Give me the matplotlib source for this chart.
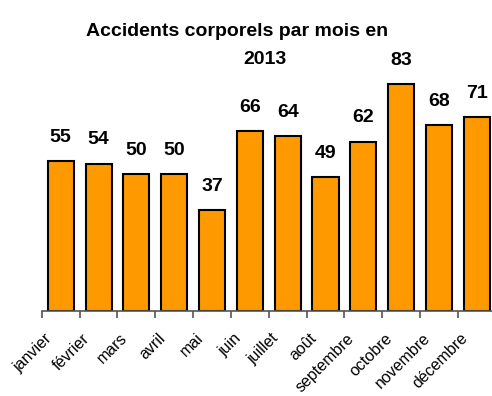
import numpy as np
import matplotlib.pyplot as plt
from matplotlib.ticker import FixedLocator

plt.rcParams['font.family'] = ['Liberation Sans', 'DejaVu Sans']

mois = ['janvier', 'février', 'mars', 'avril', 'mai', 'juin', 'juillet',
        'août', 'septembre', 'octobre', 'novembre', 'décembre']
accidents = [55, 54, 50, 50, 37, 66, 64, 49, 62, 83, 68, 71]

fig = plt.figure(figsize=(4.92, 3.96), dpi=100)
ax = fig.add_axes([0.085, 0.215, 0.915, 0.62])

x = np.arange(len(mois))
ax.bar(x, accidents, width=0.69, color='#FF9900', edgecolor='black', linewidth=1.5)

for xi, v in zip(x, accidents):
    ax.annotate(str(v), (xi, v), xytext=(0, 11), textcoords='offset points',
                ha='center', va='bottom', fontsize=14, fontweight='bold')

ax.set_xlim(-0.5, 11.4)
ax.set_ylim(0, 90)

for s in ['top', 'right', 'left']:
    ax.spines[s].set_visible(False)
ax.spines['bottom'].set_color('#555555')
ax.spines['bottom'].set_linewidth(1.2)
ax.set_yticks([])

# labels at bar centres, tick marks between categories
ax.set_xticks(x - 0.3)
ax.set_xticklabels(mois, rotation=45, ha='right', va='center',
                   rotation_mode='anchor', fontsize=11.5)
ax.tick_params(axis='x', which='major', length=0, pad=18)
ax.xaxis.set_minor_locator(FixedLocator(np.arange(-0.5, 12, 1.0)))
ax.tick_params(axis='x', which='minor', length=5, width=1.2, color='#555555')

fig.text(0.482, 0.92, 'Accidents corporels par mois en', ha='center', va='center',
         fontsize=14, fontweight='bold')
fig.text(0.538, 0.85, '2013', ha='center', va='center',
         fontsize=14, fontweight='bold')

fig.savefig('out.png', dpi=100)
